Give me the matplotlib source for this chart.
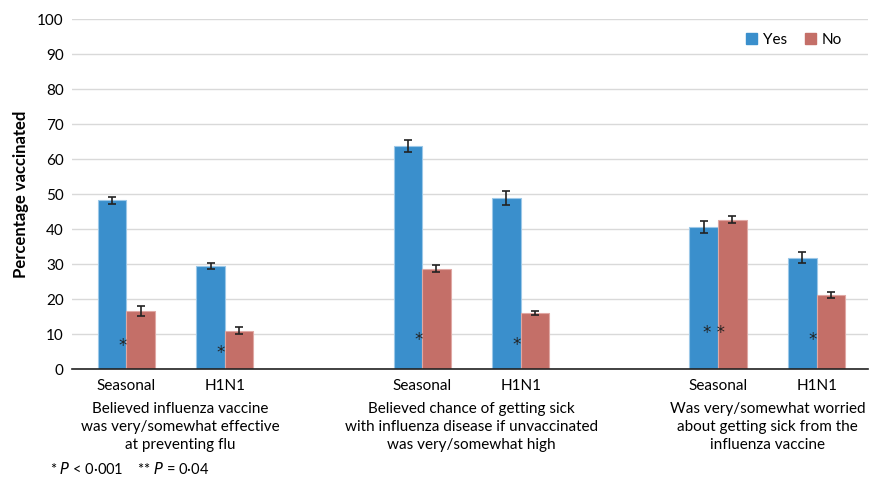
import numpy as np
import matplotlib.pyplot as plt
from matplotlib.patches import Patch

plt.rcParams["font.family"] = ["Lato", "DejaVu Sans"]

# Data
vaccines = ["Seasonal", "H1N1", "Seasonal", "H1N1", "Seasonal", "H1N1"]
groups = [
    "Believed influenza vaccine\nwas very/somewhat effective\nat preventing flu",
    "Believed chance of getting sick\nwith influenza disease if unvaccinated\nwas very/somewhat high",
    "Was very/somewhat worried\nabout getting sick from the\ninfluenza vaccine",
]
yes_vals = [48.2, 29.4, 63.7, 48.9, 40.6, 31.8]
yes_err = [1.0, 0.8, 1.6, 1.9, 1.7, 1.5]
no_vals = [16.6, 10.9, 28.6, 16.0, 42.7, 21.2]
no_err = [1.5, 1.0, 1.0, 0.7, 1.0, 0.8]
marks = ["*", "*", "*", "*", "* *", "*"]
mark_y = [6.6, 4.6, 8.4, 6.8, 10.2, 8.2]

blue = "#3A8FCC"
red = "#C46F68"

x = np.array([0, 1, 3, 4, 6, 7])
w = 0.29

fig = plt.figure(figsize=(8.83, 4.79), dpi=100)
ax = fig.add_axes([0.0815, 0.2296, 0.9015, 0.7307])

ax.bar(x - w / 2, yes_vals, w, color=blue, edgecolor="#9CC8E8", linewidth=0.8,
       yerr=yes_err, capsize=3, error_kw=dict(elinewidth=1.2, capthick=1.2, ecolor="#222222"))
ax.bar(x + w / 2, no_vals, w, color=red, edgecolor="#E0A8A4", linewidth=0.8,
       yerr=no_err, capsize=3, error_kw=dict(elinewidth=1.2, capthick=1.2, ecolor="#222222"))

# significance marks
for xi, m, my in zip(x, marks, mark_y):
    ax.text(xi - 0.04, my, m, ha="center", va="center", fontsize=12,
            color="#222222", family="DejaVu Sans")

ax.set_xlim(-0.55, 7.52)
ax.set_ylim(0, 100)
ax.set_yticks(range(0, 101, 10))
ax.yaxis.grid(True, color="#D9D9D9", linewidth=1)
ax.set_axisbelow(True)
for s in ["left", "right", "top"]:
    ax.spines[s].set_visible(False)
ax.spines["bottom"].set_color("#222222")
ax.spines["bottom"].set_linewidth(1.2)
ax.tick_params(axis="y", length=0, labelsize=11, pad=6)
ax.set_xticks(x)
ax.set_xticklabels(vaccines, fontsize=11)
ax.tick_params(axis="x", length=0, pad=7)
ax.set_ylabel("Percentage vaccinated", fontsize=12, fontweight="bold", labelpad=6)

for gx, g in zip([0.55, 3.5, 6.5], groups):
    ax.text(gx, -9.5, g, ha="center", va="top", fontsize=11,
            transform=ax.transData, linespacing=1.35)

fig.text(50 / 883, 1 - 469 / 479, "* $P$ < 0·001    ** $P$ = 0·04", fontsize=10.5,
         va="center", ha="left")

handles = [Patch(color=blue), Patch(color=red)]
ax.legend(handles, ["Yes", "No"], loc="upper right", bbox_to_anchor=(0.985, 1.0),
          ncol=2, frameon=False, fontsize=11, handlelength=0.7, handleheight=0.7,
          handletextpad=0.4, columnspacing=1.2)

fig.savefig("out.png", dpi=100)
